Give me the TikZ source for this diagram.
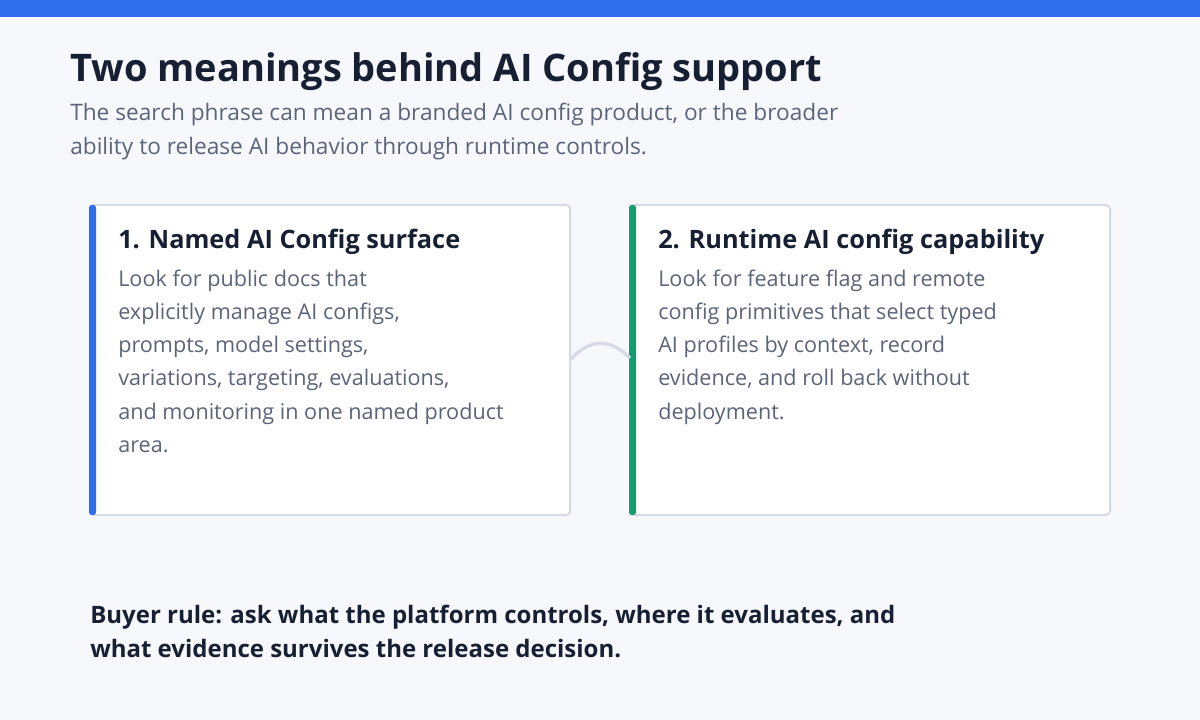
\documentclass[tikz,border=0pt]{standalone}
\usepackage{fontspec}
\setmainfont{Open Sans}
\begin{document}
\definecolor{bg}{HTML}{F7F8FC}
\definecolor{topbar}{HTML}{2F6FEB}
\definecolor{ink}{HTML}{172033}
\definecolor{muted}{HTML}{5B6478}
\definecolor{edge}{HTML}{D5DAE5}
\definecolor{grn}{HTML}{149C72}
\begin{tikzpicture}[x=0.75pt,y=-0.75pt,
  line/.style={anchor=base west,inner sep=0pt,text=muted,font=\fontsize{16.2}{19}\selectfont},
  card/.style={draw=edge,line width=1.5pt,fill=white,rounded corners=3pt},
  ctitle/.style={anchor=base west,inner sep=0pt,text=ink,font=\fontsize{19}{23}\selectfont\bfseries},
  buyer/.style={anchor=base west,inner sep=0pt,text=ink,font=\fontsize{18}{21}\selectfont\bfseries}]
\fill[bg] (0,0) rectangle (1200,720);
\useasboundingbox (0,0) rectangle (1200,720);
\fill[topbar] (0,0) rectangle (1200,17);
\node[anchor=base west,inner sep=0pt,text=ink,font=\fontsize{28.5}{32}\selectfont\bfseries] (title) at (70,82) {Two meanings behind AI Config support};
\node[line,font=\fontsize{17}{20}\selectfont] (s1) at (70,121) {The search phrase can mean a branded AI config product, or the broader};
\node[line,font=\fontsize{17}{20}\selectfont] (s2) at (70,155) {ability to release AI behavior through runtime controls.};
\draw[card] (90,205) rectangle (570,515) node[pos=0,inner sep=0pt] (c1) {};
\draw[card] (630,205) rectangle (1110,515) node[pos=0,inner sep=0pt] (c2) {};
\fill[topbar,rounded corners=2pt] (89,205) rectangle (96,515);
\fill[grn,rounded corners=2pt] (629,205) rectangle (636,515);
\coordinate (a) at (570,360);
\coordinate (b) at (630,358);
\draw[edge,line width=2.5pt] (a) .. controls (590,338) and (610,338) .. (b);
\node[ctitle] (t1) at (118,249) {1. Named AI Config surface};
\node[ctitle] (t2) at (658,249) {2. Runtime AI config capability};
\foreach \t [count=\i] in {Look for public docs that,explicitly manage AI configs\char44,prompts\char44{} model settings\char44,variations\char44{} targeting\char44{} evaluations\char44,and monitoring in one named product,area.}
  \node[line] (l\i) at (118,254+33*\i) {\t};
\foreach \t [count=\i] in {Look for feature flag and remote,config primitives that select typed,AI profiles by context\char44{} record,evidence\char44{} and roll back without,deployment.}
  \node[line] (r\i) at (658,254+33*\i) {\t};
\node[buyer] (b1) at (90,623) {Buyer rule: ask what the platform controls, where it evaluates, and};
\node[buyer] (b2) at (90,657) {what evidence survives the release decision.};
\end{tikzpicture}
\end{document}
